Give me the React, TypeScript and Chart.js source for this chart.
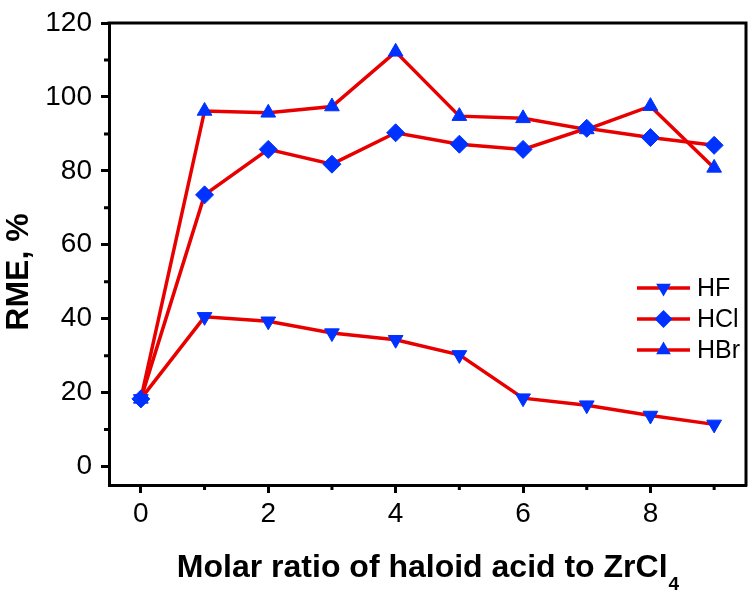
import React, { useEffect, useRef } from 'react';
import { Chart, registerables } from 'chart.js';

Chart.register(...registerables);

// ---- data ----
const xValues = [0, 1, 2, 3, 4, 5, 6, 7, 8, 9];
const hfValues = [18.3, 40.5, 39.3, 36.1, 34.3, 30.2, 18.5, 16.6, 13.8, 11.4];
const hclValues = [18.3, 73.5, 85.8, 81.8, 90.3, 87.2, 85.8, 91.5, 89.0, 86.9];
const hbrValues = [18.3, 96.2, 95.7, 97.4, 112.2, 94.8, 94.2, 91.2, 97.5, 80.8];
const seriesNames = ['HF', 'HCl', 'HBr'];

const xMajorTicks = [0, 2, 4, 6, 8];
const xMinorTicks = [1, 3, 5, 7, 9];
const yMajorTicks = [0, 20, 40, 60, 80, 100, 120];
const yMinorTicks = [10, 30, 50, 70, 90, 110];

const xTitleMain = 'Molar ratio of haloid acid to ZrCl';
const xTitleSub = '4';
const yTitle = 'RME, %';

// ---- styles ----
const LINE = 'rgb(232,0,0)';
const MARK = 'rgb(0,50,255)';
const FONT = '"Liberation Sans", Arial, Helvetica, sans-serif';

const markerStyles = [
  { pointStyle: 'triangle', rotation: 180, radius: 8.5 },
  { pointStyle: 'rectRot', rotation: 0, radius: 9 },
  { pointStyle: 'triangle', rotation: 0, radius: 8.5 },
];

function drawMarker(ctx: CanvasRenderingContext2D, style: string, rotation: number, r: number, x: number, y: number) {
  ctx.beginPath();
  if (style === 'triangle') {
    let rad = (rotation * Math.PI) / 180;
    for (let k = 0; k < 3; k++) {
      const px = x + Math.sin(rad) * r;
      const py = y - Math.cos(rad) * r;
      if (k === 0) ctx.moveTo(px, py);
      else ctx.lineTo(px, py);
      rad += (2 * Math.PI) / 3;
    }
  } else {
    ctx.moveTo(x, y - r);
    ctx.lineTo(x + r, y);
    ctx.lineTo(x, y + r);
    ctx.lineTo(x - r, y);
  }
  ctx.closePath();
  ctx.fillStyle = MARK;
  ctx.fill();
}

const extrasPlugin = {
  id: 'extras',
  afterDraw(chart: any) {
    const ctx: CanvasRenderingContext2D = chart.ctx;
    const { left, right, top, bottom } = chart.chartArea;
    const xs = chart.scales.x;
    const ys = chart.scales.y;
    ctx.save();
    // frame top and right
    ctx.strokeStyle = '#000';
    ctx.lineWidth = 3;
    ctx.beginPath();
    ctx.moveTo(left - 1.5, top);
    ctx.lineTo(right, top);
    ctx.lineTo(right, bottom + 1.5);
    ctx.stroke();
    // minor ticks
    ctx.lineWidth = 3;
    ctx.beginPath();
    xMinorTicks.forEach((v) => {
      const px = xs.getPixelForValue(v);
      ctx.moveTo(px, bottom);
      ctx.lineTo(px, bottom + 5);
    });
    yMinorTicks.forEach((v) => {
      const py = ys.getPixelForValue(v);
      ctx.moveTo(left, py);
      ctx.lineTo(left - 5, py);
    });
    ctx.stroke();

    // legend
    const lx0 = 637;
    const lx1 = 690;
    const ly0 = 288;
    const rowH = 31;
    seriesNames.forEach((name, i) => {
      const y = ly0 + i * rowH;
      ctx.strokeStyle = LINE;
      ctx.lineWidth = 3.5;
      ctx.beginPath();
      ctx.moveTo(lx0, y);
      ctx.lineTo(lx1, y);
      ctx.stroke();
      const m = markerStyles[i];
      drawMarker(ctx, m.pointStyle, m.rotation, m.radius, (lx0 + lx1) / 2, y);
      ctx.fillStyle = '#000';
      ctx.font = `25px ${FONT}`;
      ctx.textAlign = 'left';
      ctx.textBaseline = 'middle';
      ctx.fillText(name, 697, y + 1);
    });

    // x axis title with subscript
    ctx.fillStyle = '#000';
    ctx.textBaseline = 'alphabetic';
    ctx.textAlign = 'left';
    const mainFont = `bold 32px ${FONT}`;
    const subFont = `bold 19px ${FONT}`;
    ctx.font = mainFont;
    const wMain = ctx.measureText(xTitleMain).width;
    ctx.font = subFont;
    const wSub = ctx.measureText(xTitleSub).width;
    const startX = (left + right) / 2 - (wMain + wSub) / 2;
    ctx.font = mainFont;
    ctx.fillText(xTitleMain, startX, 577);
    ctx.font = subFont;
    ctx.fillText(xTitleSub, startX + wMain + 1, 590);

    // y axis title (rotated)
    ctx.save();
    ctx.translate(28, 272);
    ctx.rotate(-Math.PI / 2);
    ctx.font = mainFont;
    ctx.textAlign = 'center';
    ctx.textBaseline = 'alphabetic';
    ctx.fillText(yTitle, 0, 0);
    ctx.restore();
    ctx.restore();
  },
};

export default function App() {
  const canvasRef = useRef<HTMLCanvasElement | null>(null);

  useEffect(() => {
    if (!canvasRef.current) return;
    const seriesValues = [hfValues, hclValues, hbrValues];
    const datasets = seriesNames.map((name, i) => ({
      label: name,
      data: xValues.map((x, j) => ({ x, y: seriesValues[i][j] })),
      borderColor: LINE,
      borderWidth: 3.5,
      backgroundColor: MARK,
      pointBackgroundColor: MARK,
      pointBorderColor: MARK,
      pointBorderWidth: 1,
      pointStyle: markerStyles[i].pointStyle,
      pointRotation: markerStyles[i].rotation,
      pointRadius: markerStyles[i].radius,
      tension: 0,
      fill: false,
    }));

    const tickFont = { family: FONT, size: 28, lineHeight: 1 };

    const chart = new Chart(canvasRef.current, {
      type: 'line',
      data: { datasets },
      plugins: [extrasPlugin],
      options: {
        animation: false,
        responsive: false,
        devicePixelRatio: 1,
        layout: { padding: { left: 0, right: 5, top: 15, bottom: 0 } },
        plugins: {
          legend: { display: false },
          tooltip: { enabled: false },
        },
        scales: {
          x: {
            type: 'linear',
            min: -0.5,
            max: 9.5,
            afterBuildTicks: (s: any) => {
              s.ticks = xMajorTicks.map((v) => ({ value: v }));
            },
            afterFit: (s: any) => {
              s.height = 109;
            },
            grid: {
              display: true,
              drawOnChartArea: false,
              drawTicks: true,
              tickLength: 8,
              tickWidth: 3,
              tickColor: '#000',
            },
            border: { display: true, color: '#000', width: 3 },
            ticks: {
              color: '#000',
              font: tickFont,
              padding: 7,
              maxRotation: 0,
              autoSkip: false,
              callback: (v: any) => String(v),
            },
            title: { display: false },
          },
          y: {
            type: 'linear',
            min: -5,
            max: 120,
            afterBuildTicks: (s: any) => {
              s.ticks = yMajorTicks.map((v) => ({ value: v }));
            },
            afterFit: (s: any) => {
              s.width = 109;
            },
            grid: {
              display: true,
              drawOnChartArea: false,
              drawTicks: true,
              tickLength: 8,
              tickWidth: 3,
              tickColor: '#000',
            },
            border: { display: true, color: '#000', width: 3 },
            ticks: {
              color: '#000',
              font: tickFont,
              padding: 9,
              autoSkip: false,
              callback: (v: any) => String(v),
            },
            title: { display: false },
          },
        },
      } as any,
    });
    return () => chart.destroy();
  }, []);

  return (
    <div style={{ position: 'absolute', left: 0, top: 0, width: 756, height: 594, background: '#fff' }}>
      <canvas ref={canvasRef} width={756} height={594} style={{ display: 'block', width: 756, height: 594 }} />
    </div>
  );
}
